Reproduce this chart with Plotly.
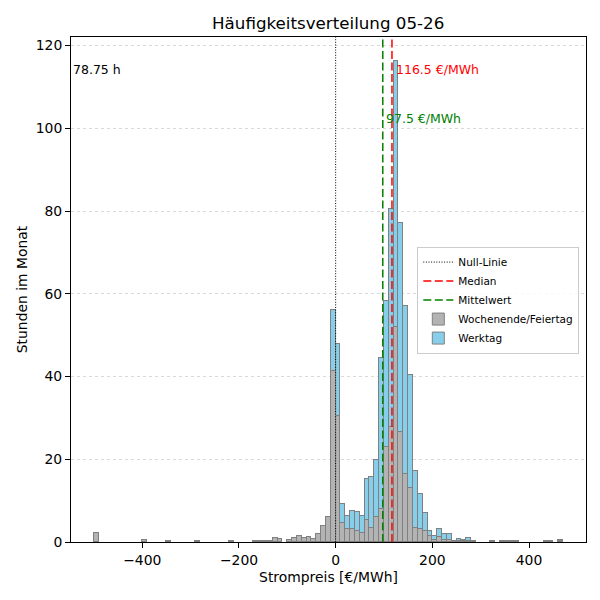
import plotly.graph_objects as go

# ---- data (bins of 10 €/MWh, left edges) ----
bin_left = [-500, -400, -350, -290, -220, -170, -160, -150, -140, -130, -120,
            -100, -90, -80, -70, -60, -50, -40, -30, -20, -10,
            0, 10, 20, 30, 40, 50, 60, 70, 80, 90,
            100, 110, 120, 130, 140, 150, 160, 170, 180, 190,
            200, 210, 220, 230, 240, 250, 260, 270, 280,
            320, 340, 350, 360, 370, 430, 440, 460]
weekend_hours = [2.25, 0.5, 0.25, 0.25, 0.25, 0.25, 0.25, 0.25, 0.25, 1.0, 0.75,
                 0.5, 1.0, 1.5, 1.0, 1.25, 0.75, 2.0, 3.75, 6.0, 41.25,
                 30.5, 4.5, 3.25, 3.25, 2.75, 2.25, 5.25, 3.5, 6.0, 8.0,
                 23.0, 27.75, 52.0, 26.5, 16.5, 13.0, 3.5, 3.25, 2.75, 1.5,
                 0.5, 1.25, 0.5, 0.5, 0.25, 0.25, 0.25, 0.25, 0.25,
                 0.25, 0.25, 0.25, 0.25, 0.25, 0.25, 0.25, 0.25]
weekday_hours = [0, 0, 0, 0, 0, 0, 0, 0, 0, 0, 0,
                 0, 0, 0, 0, 0, 0, 0, 0, 0, 14.75,
                 17.25, 4.75, 3.0, 4.25, 4.5, 4.0, 10.0, 12.25, 13.75, 36.5,
                 35.25, 52.75, 64.25, 50.5, 40.5, 27.25, 13.75, 8.25, 4.25, 1.25,
                 1.0, 2.0, 1.5, 1.5, 0, 0.5, 0.25, 0.75, 0,
                 0, 0, 0, 0, 0, 0, 0, 0.25]
bin_width = 10
median_price = 116.5
mean_price = 97.5
negative_hours_label = "78.75 h"

# ---- derived ----
centers = [b + bin_width / 2 for b in bin_left]
totals = [a + b for a, b in zip(weekend_hours, weekday_hours)]
y_top = max(totals) * 1.05
x_lo, x_hi = -547.5, 517.9

FONT = "DejaVu Sans"
fig = go.Figure()

fig.add_trace(go.Bar(x=centers, y=weekend_hours, width=bin_width, name="Wochenende/Feiertag",
                     legendrank=4,
                     marker=dict(color="#b3b3b3", line=dict(color="#808080", width=1))))
fig.add_trace(go.Bar(x=centers, y=weekday_hours, width=bin_width, name="Werktag",
                     legendrank=5,
                     marker=dict(color="#87ceeb", line=dict(color="#808080", width=1))))
fig.add_trace(go.Scatter(x=[0, 0], y=[0, y_top], mode="lines", name="Null-Linie",
                         legendrank=1,
                         line=dict(color="black", width=1, dash="1px,1.6px")))
fig.add_trace(go.Scatter(x=[median_price, median_price], y=[0, y_top], mode="lines",
                         name="Median", legendrank=2,
                         line=dict(color="red", width=1.5, dash="8px,3.5px")))
fig.add_trace(go.Scatter(x=[mean_price, mean_price], y=[0, y_top], mode="lines",
                         name="Mittelwert", legendrank=3,
                         line=dict(color="green", width=1.5, dash="8px,3.5px")))

fig.add_annotation(x=0, xref="paper", y=114.3, yref="y", text=negative_hours_label,
                   showarrow=False, xanchor="left", yanchor="middle",
                   font=dict(family=FONT, size=12.5, color="black"))
fig.add_annotation(x=median_price + 4, y=114.3, text=f"{median_price} €/MWh",
                   showarrow=False, xanchor="left", yanchor="middle",
                   font=dict(family=FONT, size=12.5, color="red"))
fig.add_annotation(x=mean_price + 2.5, y=102.3, text=f"{mean_price} €/MWh",
                   showarrow=False, xanchor="left", yanchor="middle",
                   font=dict(family=FONT, size=12.5, color="green"))

fig.update_layout(
    width=600, height=600,
    margin=dict(l=71, r=14, t=37, b=58, autoexpand=False),
    paper_bgcolor="white", plot_bgcolor="white",
    barmode="stack", bargap=0,
    font=dict(family=FONT, size=13.9, color="black"),
    title=dict(text="Häufigkeitsverteilung 05-26", x=0.547, xanchor="center",
               y=1 - 23 / 600, yref="container", yanchor="middle",
               font=dict(family=FONT, size=16.7, color="black")),
    legend=dict(x=0.987, y=0.585, xanchor="right", yanchor="top",
                traceorder="normal", bgcolor="rgba(255,255,255,0.8)",
                bordercolor="#cccccc", borderwidth=1,
                font=dict(family=FONT, size=10.5, color="black"),
                itemwidth=30, tracegroupgap=0),
    showlegend=True,
)
fig.update_xaxes(range=[x_lo, x_hi], tickvals=[-400, -200, 0, 200, 400],
                 automargin=False,
                 showgrid=False, zeroline=False, showline=True, mirror=True,
                 linecolor="black", linewidth=1, ticks="outside", ticklen=5,
                 tickcolor="black", tickfont=dict(size=13.9),
                 title=dict(text="Strompreis [€/MWh]", standoff=5, font=dict(size=13.9)))
fig.update_yaxes(range=[0, y_top], tickvals=[0, 20, 40, 60, 80, 100, 120],
                 automargin=False,
                 showgrid=True, gridcolor="#d9d9d9", griddash="dot", gridwidth=0.8,
                 zeroline=False, showline=True, mirror=True,
                 linecolor="black", linewidth=1, ticks="outside", ticklen=5,
                 tickcolor="black", tickfont=dict(size=13.9),
                 title=dict(text="Stunden im Monat", standoff=4, font=dict(size=13.9)))

fig.write_html("out.html", config={"displayModeBar": False},
               post_script="document.body.style.margin='0';")
